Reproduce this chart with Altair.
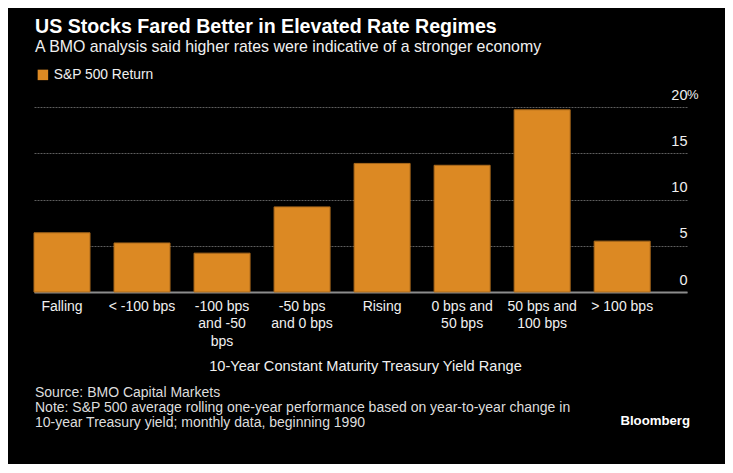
import altair as alt
import pandas as pd

categories = ["Falling", "< -100 bps", "-100 bps|and -50|bps", "-50 bps|and 0 bps",
              "Rising", "0 bps and|50 bps", "50 bps and|100 bps", "> 100 bps"]
returns = [6.4, 5.3, 4.2, 9.2, 13.9, 13.7, 19.7, 5.5]
series_name = "S&P 500 Return"
y_ticks = [0, 5, 10, 15, 20]

title_text = "US Stocks Fared Better in Elevated Rate Regimes"
subtitle_text = "A BMO analysis said higher rates were indicative of a stronger economy"
x_title = "10-Year Constant Maturity Treasury Yield Range"
footer_lines = ["Source: BMO Capital Markets",
                "Note: S&P 500 average rolling one-year performance based on year-to-year change in",
                "10-year Treasury yield; monthly data, beginning 1990"]
brand = "Bloomberg"

FONT = "Liberation Sans, Arial, sans-serif"
BAR = "#DC8923"
TEXT = "#F0F0F0"

W, H = 653, 185

df = pd.DataFrame({"cat": categories, "ret": returns, "series": [series_name] * len(categories)})
one = pd.DataFrame({"k": [0]})

bars = alt.Chart(df).mark_bar(stroke="#A8681C", strokeWidth=1).encode(
    x=alt.X("cat:N", sort=categories,
            scale=alt.Scale(paddingInner=0.3, paddingOuter=0.23, align=0),
            axis=alt.Axis(title=x_title, labelAngle=0, labelExpr="split(datum.label, '|')",
                          labelBaseline="top", labelPadding=7, labelLineHeight=17.5,
                          labelFontSize=14, labelColor=TEXT, labelFont=FONT,
                          ticks=False, domain=True, domainColor="#8C8C8C", domainWidth=2,
                          titleFont=FONT, titleFontSize=14.6, titleFontWeight="normal",
                          titleColor=TEXT, titlePadding=10, titleX=331, grid=False)),
    y=alt.Y("ret:Q", scale=alt.Scale(domain=[0, 20], nice=False),
            axis=alt.Axis(orient="right", values=y_ticks, title=None, domain=False,
                          ticks=False, tickSize=0, labelAlign="right", labelPadding=0,
                          labelBaseline="alphabetic", labelOffset=-8,
                          labelFontSize=14.5, labelColor=TEXT, labelFont=FONT,
                          grid=True, gridColor="#5E5E5E", gridDash=[2, 1], gridWidth=1)),
    color=alt.Color("series:N", scale=alt.Scale(range=[BAR]),
                    legend=alt.Legend(title=None, orient="none", legendX=2, legendY=-39,
                                      symbolType="square", symbolSize=110, symbolStrokeWidth=0,
                                      labelFont=FONT, labelFontSize=13.8, labelColor=TEXT,
                                      labelOffset=4)),
)

pct = alt.Chart(one).mark_text(text="%", align="left", baseline="alphabetic", dy=-8,
                               font=FONT, fontSize=13, color=TEXT).encode(
    x=alt.value(W), y=alt.YDatum(20))

title = alt.Chart(one).mark_text(text=title_text, align="left", baseline="alphabetic",
                                 font=FONT, fontSize=19.6, fontWeight="bold", color="#FFFFFF").encode(
    x=alt.value(1), y=alt.value(-74))
subtitle = alt.Chart(one).mark_text(text=subtitle_text, align="left", baseline="alphabetic",
                                    font=FONT, fontSize=15.9, color=TEXT).encode(
    x=alt.value(1), y=alt.value(-55))
footer = alt.Chart(one).mark_text(text=footer_lines, align="left", baseline="alphabetic",
                                  lineHeight=14.8, font=FONT, fontSize=14, color="#DDDDDD").encode(
    x=alt.value(1), y=alt.value(290))
logo = alt.Chart(one).mark_text(text=brand, align="right", baseline="alphabetic",
                                font=FONT, fontSize=13.2, fontWeight="bold", color="#FFFFFF").encode(
    x=alt.value(656), y=alt.value(318))

chart = alt.layer(bars, pct, title, subtitle, footer, logo).properties(
    width=W, height=H,
    autosize=alt.AutoSizeParams(type="none"),
    padding={"left": 26, "top": 99, "right": 38, "bottom": 172},
    background="#000000",
).configure_view(stroke=None)

chart.save("out.html", embed_options={"renderer": "svg", "actions": False})
